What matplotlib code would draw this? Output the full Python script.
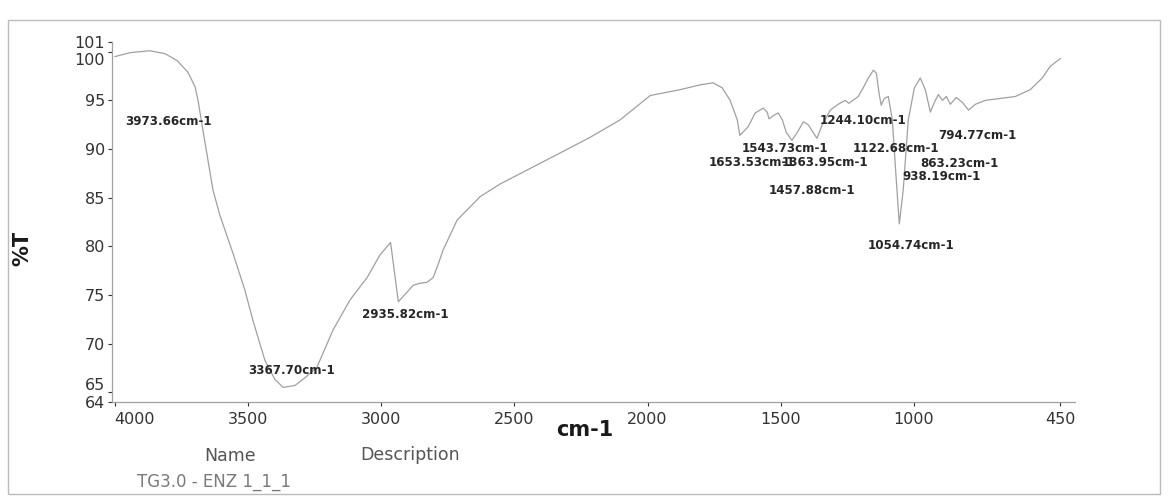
import numpy as np
import matplotlib.pyplot as plt
from matplotlib.transforms import ScaledTranslation

plt.rcParams['font.family'] = ['DejaVu Sans']

# IR spectrum, wavenumber (cm-1) vs transmittance (%T)
WAVENUMBER = [4000, 3944, 3869, 3812, 3767, 3726, 3699, 3688, 3673, 3654,
              3632, 3606, 3557, 3512, 3482, 3437, 3399, 3367.70, 3324, 3286,
              3241, 3181, 3117, 3053, 3005, 2965, 2935.82, 2880, 2854, 2828,
              2805, 2787, 2768, 2715, 2629, 2554, 2441, 2328, 2216, 2103,
              1990, 1878, 1802, 1754, 1720, 1690, 1663, 1653.53, 1622, 1596,
              1566, 1551, 1543.73, 1524, 1509, 1494, 1479, 1457.88, 1438, 1415,
              1397, 1363.95, 1344, 1314, 1284, 1258, 1244.10, 1209, 1190, 1171,
              1152, 1141, 1130, 1122.68, 1111, 1096, 1081, 1066, 1054.74, 1040,
              1021, 998, 976, 957, 938.19, 923, 908, 893, 878, 863.23,
              841, 818, 794.77, 769, 732, 675, 619, 563, 518, 488, 450]
TRANSMITTANCE = [99.5, 99.9, 100.1, 99.8, 99.1, 97.9, 96.4, 95.0, 92.5, 89.4,
                 85.8, 83.2, 79.3, 75.5, 72.4, 68.3, 66.3, 65.5, 65.7, 66.5,
                 67.6, 71.4, 74.5, 76.8, 79.1, 80.4, 74.3, 76.0, 76.2, 76.3,
                 76.8, 78.1, 79.6, 82.7, 85.1, 86.4, 88.0, 89.6, 91.2, 93.0,
                 95.5, 96.1, 96.6, 96.8, 96.3, 95.0, 93.0, 91.4, 92.3, 93.7,
                 94.2, 93.8, 93.1, 93.5, 93.7, 93.0, 91.7, 90.9, 91.7, 92.8,
                 92.5, 91.1, 92.5, 94.0, 94.6, 95.0, 94.7, 95.4, 96.3, 97.3,
                 98.1, 97.8, 95.6, 94.5, 95.2, 95.4, 93.0, 86.8, 82.3, 85.8,
                 93.0, 96.3, 97.3, 96.1, 93.8, 94.8, 95.6, 95.0, 95.4, 94.6,
                 95.3, 94.8, 94.0, 94.6, 95.0, 95.2, 95.4, 96.1, 97.3, 98.5, 99.3]

# labelled peaks and where their labels sit (left edge, centre height)
PEAK_WN = [3973.66, 3367.70, 2935.82, 1653.53, 1543.73, 1457.88, 1363.95,
           1244.10, 1122.68, 1054.74, 938.19, 863.23, 794.77]
LABEL_XY = [(3962, 92.8), (3500, 67.2), (3072, 73.0), (1769, 88.6),
            (1648, 90.1), (1545, 85.7), (1497, 88.6), (1352, 92.9),
            (1228, 90.1), (1175, 80.1), (1044, 87.2), (976, 88.5),
            (908, 91.4)]

X_TICKS = [4000, 3500, 3000, 2500, 2000, 1500, 1000, 450]
Y_TICKS = [64, 65, 70, 75, 80, 85, 90, 95, 100, 101]

fig = plt.figure(figsize=(11.68, 4.98), dpi=100)
ax = fig.add_axes([112 / 1168, 96 / 498, 963 / 1168, 360 / 498])

ax.plot(WAVENUMBER, TRANSMITTANCE, color='#a0a0a0', lw=0.9)

for wn, (lx, ly) in zip(PEAK_WN, LABEL_XY):
    ax.text(lx, ly, '{:.2f}cm-1'.format(wn), fontsize=8.6, fontweight='bold',
            color='#262626', ha='left', va='center')

ax.set_xlim(4011, 395)
ax.set_ylim(64, 101)
ax.set_xticks(X_TICKS)
ax.set_yticks(Y_TICKS)
ax.tick_params(axis='both', labelsize=11.5, colors='#333333', length=3,
               width=0.8, direction='out', pad=2)
ax.tick_params(axis='x', pad=4)
for s in ['top', 'right']:
    ax.spines[s].set_visible(False)
for s in ['left', 'bottom']:
    ax.spines[s].set_color('#a0a0a0')
    ax.spines[s].set_linewidth(0.9)

# nudge crowded tick labels apart like the instrument printout
dpi = fig.dpi_scale_trans
yt = ax.yaxis.get_major_ticks()
yt[Y_TICKS.index(100)].label1.set_transform(
    yt[Y_TICKS.index(100)].label1.get_transform() + ScaledTranslation(0, -7 / 100, dpi))
yt[Y_TICKS.index(65)].label1.set_transform(
    yt[Y_TICKS.index(65)].label1.get_transform() + ScaledTranslation(0, 8 / 100, dpi))
xt = ax.xaxis.get_major_ticks()
xt[0].label1.set_transform(xt[0].label1.get_transform() + ScaledTranslation(20 / 100, 0, dpi))

fig.text(585 / 1168, 1 - 430 / 498, 'cm-1', fontsize=15, fontweight='bold',
         color='#1a1a1a', ha='center', va='center')
fig.text(22 / 1168, 1 - 248 / 498, '%T', fontsize=15, fontweight='bold',
         color='#1a1a1a', ha='center', va='center', rotation=90)

fig.text(230 / 1168, 1 - 456 / 498, 'Name', fontsize=12.5, color='#555555',
         ha='center', va='center')
fig.text(410 / 1168, 1 - 455 / 498, 'Description', fontsize=12.5, color='#555555',
         ha='center', va='center')
fig.text(137 / 1168, 1 - 482 / 498, 'TG3.0 - ENZ 1_1_1', fontsize=12,
         color='#7a7a7a', ha='left', va='center')

# page frame around the printout
fig.add_artist(plt.Rectangle((8 / 1168, 4 / 498), 1152 / 1168, 474 / 498,
                             transform=fig.transFigure, fill=False,
                             edgecolor='#bbbbbb', lw=1.0))

fig.savefig('out.png', dpi=100)
